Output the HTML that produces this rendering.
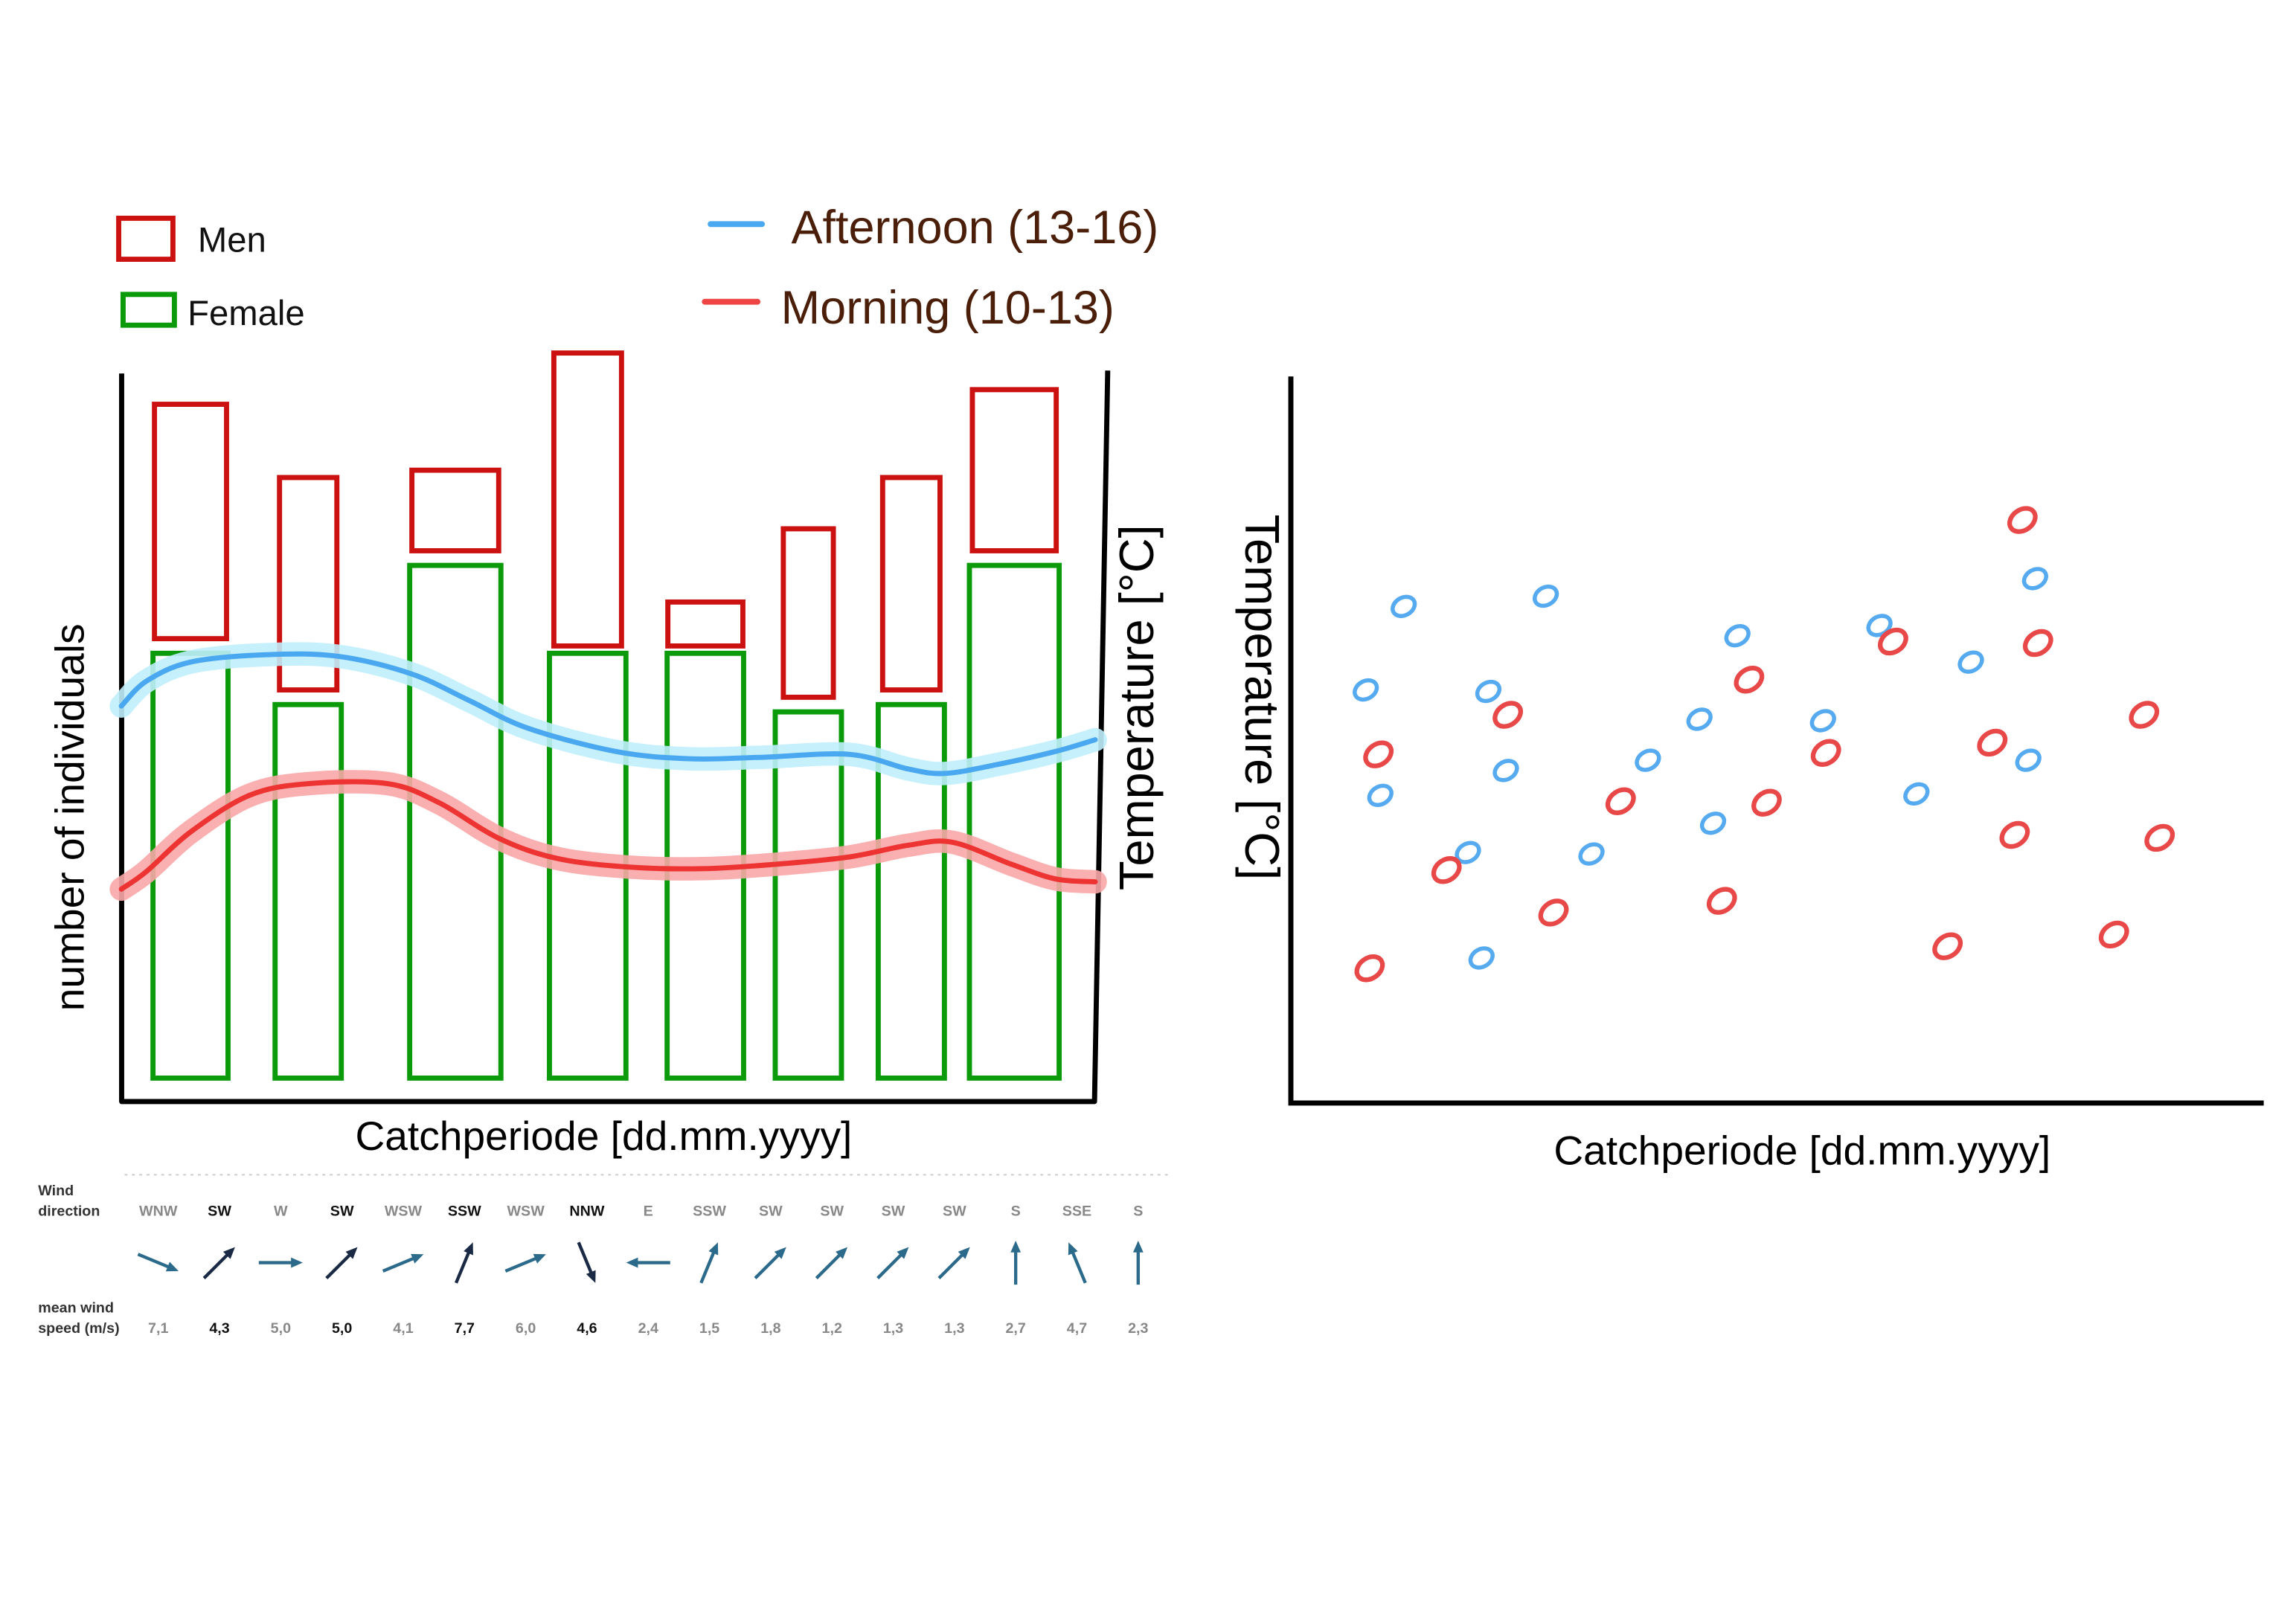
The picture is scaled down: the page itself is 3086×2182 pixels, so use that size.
<!DOCTYPE html>
<html><head><meta charset="utf-8"><style>
html,body{margin:0;padding:0;background:#fff;}
svg{display:block;}
text{font-family:"Liberation Sans",sans-serif;}
</style></head><body>
<svg id="chart" width="3086" height="2182" viewBox="0 0 1567 1108" xmlns="http://www.w3.org/2000/svg">
<rect width="1567" height="1108" fill="#fff"/>
<g id="legend">
  <rect x="81" y="149" width="37" height="28" fill="none" stroke="#cc1111" stroke-width="3.5"/>
  <text x="135" y="172" font-size="24" fill="#111">Men</text>
  <rect x="84" y="201" width="35" height="21" fill="none" stroke="#0a9a0a" stroke-width="3.5"/>
  <text x="128" y="222" font-size="24" fill="#111">Female</text>
  <line x1="485" y1="153" x2="520" y2="153" stroke="#4aa8f0" stroke-width="4" stroke-linecap="round"/>
  <text x="540" y="166" font-size="32" fill="#4a1e08">Afternoon (13-16)</text>
  <line x1="481" y1="206" x2="517" y2="206" stroke="#ee4444" stroke-width="4" stroke-linecap="round"/>
  <text x="533" y="221" font-size="32" fill="#4a1e08">Morning (10-13)</text>
</g>
<g id="main"></g>
<g id="scatter"></g>
<g id="wind"></g>
</svg>
<script>
// ---- main chart data ----
const periodDays = [0, 8, 18, 27, 35, 42, 49, 56];
const femaleCounts = [58, 51, 70, 58, 58, 50, 51, 70];
const menLow = [60, 53, 72, 59, 59, 52, 53, 72];
const menHigh = [92, 82, 83, 99, 65, 75, 82, 94];
const femaleWidthDays = [5.1, 4.5, 6.2, 5.2, 5.2, 4.5, 4.5, 6.1];
const menWidthDays = [4.9, 3.9, 5.9, 4.6, 5.1, 3.4, 3.9, 5.7];
const afternoonDays = [-4.7, -3, 0, 5, 10, 15, 18.9, 22.9, 28.9, 33.9, 38.8, 44.8, 48.8, 51.3, 54.8, 58.8, 61.5];
const afternoonTemps = [13.5, 14.35, 15, 15.25, 15.2, 14.6, 13.7, 12.75, 11.95, 11.7, 11.75, 11.85, 11.35, 11.2, 11.5, 11.95, 12.35];
const morningDays = [-4.7, -3, 0, 4, 8, 13.4, 16.9, 20.9, 24.9, 29.9, 34.9, 39.8, 44.8, 48.8, 51.8, 55.8, 58.8, 61.5];
const morningTemps = [7.25, 7.85, 9.2, 10.45, 10.85, 10.85, 10.2, 9, 8.3, 8, 7.95, 8.1, 8.35, 8.75, 8.85, 8.1, 7.6, 7.5];
// ---- scatter data ----
const afternoonPtX = [11.6, 26.2, 7.7, 20.3, 9.2, 22.1, 18.2, 19.6, 30.9, 36.7, 42.0, 43.4, 45.9, 54.7, 60.5, 64.3, 69.9, 76.5, 75.8];
const afternoonPtT = [16.95, 17.3, 14.1, 14.05, 10.5, 11.35, 8.55, 4.95, 8.5, 11.7, 13.1, 9.55, 15.95, 13.05, 16.3, 10.55, 15.05, 17.9, 11.7];
const morningPtX = [9.0, 8.1, 16.0, 22.3, 27.0, 33.9, 44.3, 47.1, 48.9, 55.0, 61.9, 67.5, 72.1, 74.4, 75.2, 76.8, 84.6, 87.7, 89.3];
const morningPtT = [11.9, 4.6, 7.95, 13.25, 6.5, 10.3, 6.9, 14.45, 10.25, 11.95, 15.75, 5.35, 12.3, 9.15, 19.9, 15.7, 5.75, 13.25, 9.05];
// ---- wind data ----
const windDirs = ["WNW","SW","W","SW","WSW","SSW","WSW","NNW","E","SSW","SW","SW","SW","SW","S","SSE","S"];
const windSpeeds = ["7,1","4,3","5,0","5,0","4,1","7,7","6,0","4,6","2,4","1,5","1,8","1,2","1,3","1,3","2,7","4,7","2,3"];
const windBold = [0,1,0,1,0,1,0,1,0,0,0,0,0,0,0,0,0];

const NS = "http://www.w3.org/2000/svg";
function mk(parent, tag, attrs) {
  const e = document.createElementNS(NS, tag);
  for (const k in attrs) e.setAttribute(k, attrs[k]);
  parent.appendChild(e);
  return e;
}
const xDay = d => 130 + d * 10.04;
const yCount = v => 736 - v * 5;
const yTemp = t => 752 - t * 20;
const sx = v => 881 + v * 6.64;
const sy = t => 753 - t * 20;

const main = document.getElementById('main');
let a = mk(main, 'path', {d: 'M83,255 L83,752 L747,752 L756,253', fill: 'none', stroke: '#000', 'stroke-width': 3.5, 'stroke-linejoin': 'round'});



periodDays.forEach((d, i) => {
  const cx = xDay(d);
  const fw = femaleWidthDays[i] * 10.04;
  const f = mk(main, 'rect', {x: cx - fw / 2, y: yCount(femaleCounts[i]), width: fw, height: yCount(0) - yCount(femaleCounts[i]), fill: 'none', stroke: '#0a9a0a', 'stroke-width': 3.5});
  
  
  const mw = menWidthDays[i] * 10.04;
  const m = mk(main, 'rect', {x: cx - mw / 2, y: yCount(menHigh[i]), width: mw, height: yCount(menLow[i]) - yCount(menHigh[i]), fill: 'none', stroke: '#cc1111', 'stroke-width': 3.5});
  
  
});

function smoothPath(xs, ys) {
  const p = xs.map((x, i) => [x, ys[i]]);
  let d = 'M' + p[0][0] + ',' + p[0][1];
  for (let i = 0; i < p.length - 1; i++) {
    const p0 = p[Math.max(0, i - 1)], p1 = p[i], p2 = p[i + 1], p3 = p[Math.min(p.length - 1, i + 2)];
    const c1x = p1[0] + (p2[0] - p0[0]) / 6, c1y = p1[1] + (p2[1] - p0[1]) / 6;
    const c2x = p2[0] - (p3[0] - p1[0]) / 6, c2y = p2[1] - (p3[1] - p1[1]) / 6;
    d += ' C' + c1x + ',' + c1y + ' ' + c2x + ',' + c2y + ' ' + p2[0] + ',' + p2[1];
  }
  return d;
}
const aPath = smoothPath(afternoonDays.map(xDay), afternoonTemps.map(yTemp));
const mPath = smoothPath(morningDays.map(xDay), morningTemps.map(yTemp));
let h1 = mk(main, 'path', {d: aPath, fill: 'none', stroke: '#bfeefc', 'stroke-width': 16, 'stroke-linecap': 'round', opacity: 0.9});


let h2 = mk(main, 'path', {d: mPath, fill: 'none', stroke: '#f9a7a7', 'stroke-width': 16, 'stroke-linecap': 'round', opacity: 0.9});


let l1 = mk(main, 'path', {d: aPath, fill: 'none', stroke: '#4aa8f0', 'stroke-width': 3.5, 'stroke-linecap': 'round'});


let l2 = mk(main, 'path', {d: mPath, fill: 'none', stroke: '#ee3333', 'stroke-width': 3.5, 'stroke-linecap': 'round'});



let t1 = mk(main, 'text', {x: 0, y: 0, 'font-size': 28, fill: '#000', 'text-anchor': 'middle', transform: 'translate(57,558) rotate(-90)'});
t1.textContent = 'number of individuals';


let t2 = mk(main, 'text', {x: 0, y: 0, 'font-size': 33, fill: '#000', 'text-anchor': 'middle', transform: 'translate(787,483) rotate(-90)'});
t2.textContent = 'Temperature [°C]';


let t3 = mk(main, 'text', {x: 412, y: 785, 'font-size': 28, fill: '#000', 'text-anchor': 'middle'});
t3.textContent = 'Catchperiode [dd.mm.yyyy]';



const sc = document.getElementById('scatter');
let sa = mk(sc, 'path', {d: 'M881,257 L881,753 L1545,753', fill: 'none', stroke: '#000', 'stroke-width': 3.5});


afternoonPtX.forEach((v, i) => {
  const c = mk(sc, 'ellipse', {cx: sx(v), cy: sy(afternoonPtT[i]), rx: 8, ry: 6, fill: 'none', stroke: '#55aaf0', 'stroke-width': 2.8, transform: 'rotate(-30 ' + sx(v) + ' ' + sy(afternoonPtT[i]) + ')'});
  
  
});
morningPtX.forEach((v, i) => {
  const c = mk(sc, 'ellipse', {cx: sx(v), cy: sy(morningPtT[i]), rx: 9.5, ry: 7, fill: 'none', stroke: '#e84848', 'stroke-width': 3.2, transform: 'rotate(-35 ' + sx(v) + ' ' + sy(morningPtT[i]) + ')'});
  
  
});
let t4 = mk(sc, 'text', {x: 0, y: 0, 'font-size': 33, fill: '#000', 'text-anchor': 'middle', transform: 'translate(850,476) rotate(90)'});
t4.textContent = 'Temperature [°C]';


let t5 = mk(sc, 'text', {x: 1230, y: 795, 'font-size': 28, fill: '#000', 'text-anchor': 'middle'});
t5.textContent = 'Catchperiode [dd.mm.yyyy]';



const w = document.getElementById('wind');
const compass = {N:0,NNE:22.5,NE:45,ENE:67.5,E:90,ESE:112.5,SE:135,SSE:157.5,S:180,SSW:202.5,SW:225,WSW:247.5,W:270,WNW:292.5,NW:315,NNW:337.5};
let dl = mk(w, 'line', {x1: 85, y1: 802, x2: 800, y2: 802, stroke: '#ccc', 'stroke-width': 1, 'stroke-dasharray': '2,3'});


[['Wind', 812], ['direction', 826], ['mean  wind', 892], ['speed  (m/s)', 906]].forEach(r => {
  const t = mk(w, 'text', {x: 26, y: r[1] + 4, 'font-size': 10, 'font-weight': 'bold', fill: '#333'});
  t.textContent = r[0];
  
  
});
windDirs.forEach((dir, i) => {
  const cx = 108 + i * 41.8;
  const col = windBold[i] ? '#1a2a45' : '#2b6a8a';
  const tc = windBold[i] ? '#111' : '#888';
  const td = mk(w, 'text', {x: cx, y: 830, 'font-size': 10, 'font-weight': 'bold', fill: tc, 'text-anchor': 'middle'});
  td.textContent = dir;
  
  
  const ts = mk(w, 'text', {x: cx, y: 910, 'font-size': 10, 'font-weight': 'bold', fill: tc, 'text-anchor': 'middle'});
  ts.textContent = windSpeeds[i];
  
  
  const hd = (compass[dir] + 180) * Math.PI / 180;
  const dx = Math.sin(hd), dy = -Math.cos(hd), L = 15;
  const x1 = cx - dx * L, y1 = 862 - dy * L, x2 = cx + dx * L, y2 = 862 + dy * L;
  const px = -dy, py = dx;
  const g = mk(w, 'g', {});
  
  
  mk(g, 'line', {x1: x1, y1: y1, x2: x2 - dx * 5, y2: y2 - dy * 5, stroke: col, 'stroke-width': 2.2});
  mk(g, 'polygon', {points: x2 + ',' + y2 + ' ' + (x2 - dx * 8 + px * 3.5) + ',' + (y2 - dy * 8 + py * 3.5) + ' ' + (x2 - dx * 8 - px * 3.5) + ',' + (y2 - dy * 8 - py * 3.5), fill: col});
});
</script>
</body></html>
